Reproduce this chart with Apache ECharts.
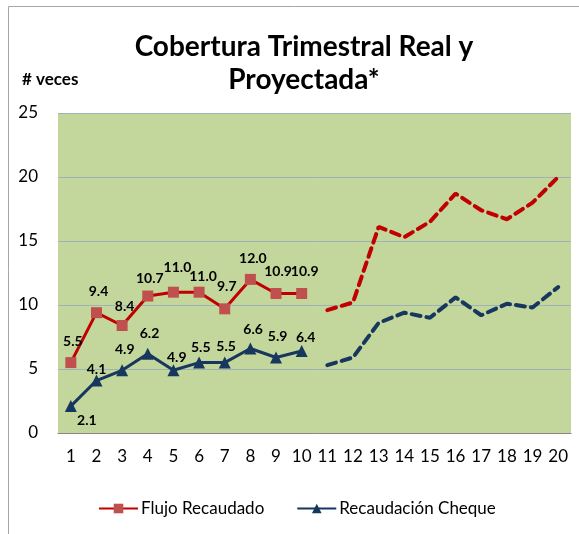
<!DOCTYPE html>
<html><head><meta charset="utf-8">
<script src="https://cdn.jsdelivr.net/npm/echarts@6/dist/echarts.min.js"></script>
<style>html,body{margin:0;padding:0;background:#fff}#c{width:579px;height:534px}</style>
</head><body><div id="c"></div>
<script>
const categories = ['1','2','3','4','5','6','7','8','9','10','11','12','13','14','15','16','17','18','19','20'];
const flujoReal = [5.5, 9.4, 8.4, 10.7, 11.0, 11.0, 9.7, 12.0, 10.9, 10.9];
const chequeReal = [2.1, 4.1, 4.9, 6.2, 4.9, 5.5, 5.5, 6.6, 5.9, 6.4];
const flujoProy = [9.6, 10.2, 16.1, 15.3, 16.5, 18.7, 17.4, 16.7, 18.0, 20.0];
const chequeProy = [5.3, 5.9, 8.6, 9.4, 9.0, 10.6, 9.2, 10.1, 9.8, 11.4];
const yTicks = [0, 5, 10, 15, 20, 25];

// label placement offsets (style only), relative to the marker centre
const redLabelDx = [2, 2, 2.5, 2, 4, 4, 2, 2.5, 2, 3];
const redLabelDy = [-21, -21, -19, -18, -25, -16, -22, -21, -22, -22];
const blueLabelDx = [16, 0, 2.6, 1.7, 3.3, 1.7, 1.4, 2.7, 1.6, 4];
const blueLabelDy = [14, -11, -21, -20, -13, -15, -16, -19.5, -21, -14];

const nReal = flujoReal.length;
const pad = (arr, before, total) => {
  const out = new Array(total).fill(null);
  arr.forEach((v, i) => { out[before + i] = v; });
  return out;
};
const N = categories.length;
const chart = echarts.init(document.getElementById('c'));
const font = 'Lato, "Open Sans", sans-serif';
const labelCommon = {show: true, position: 'top', fontFamily: font, fontWeight: 'bold', fontSize: 14, color: '#000', formatter: p => p.value == null ? '' : Number(p.value).toFixed(1)};
const layoutWith = (dxs, dys) => function (p) {
  const r = p.rect;
  const i = p.dataIndex;
  return {x: r.x + r.width / 2 + (dxs[i] || 0), y: r.y + r.height / 2 + (dys[i] || 0), align: 'center', verticalAlign: 'middle'};
};
chart.setOption({
  animation: false,
  textStyle: {fontFamily: font},
  graphic: [{type: 'rect', shape: {x: 8.5, y: 6.5, width: 700, height: 700}, style: {fill: 'none', stroke: '#a6a6a6', lineWidth: 1}, z: -1}],
  title: [{
    text: 'Cobertura Trimestral Real y\nProyectada*',
    left: 299, top: 25, textAlign: 'center',
    textStyle: {fontFamily: font, fontWeight: 'bold', fontSize: 28, color: '#000', lineHeight: 33}
  }, {
    text: '# veces', left: 17, top: 66,
    textStyle: {fontFamily: font, fontWeight: 'bold', fontSize: 17, color: '#000'}
  }],
  legend: {
    top: 495, left: 93, itemWidth: 39, itemHeight: 12, itemGap: 32,
    data: ['Flujo Recaudado', 'Recaudación Cheque'],
    textStyle: {fontFamily: font, fontSize: 17, color: '#000', padding: [0, 0, 0, -2]}
  },
  grid: {left: 58, right: 8, top: 113, bottom: 101, backgroundColor: '#c3d69b', show: true, borderWidth: 0},
  xAxis: {
    type: 'category', data: categories, boundaryGap: true,
    axisLine: {lineStyle: {color: '#868686', width: 1}},
    axisTick: {show: false},
    axisLabel: {fontFamily: font, fontSize: 17, color: '#000', margin: 15, interval: 0}
  },
  yAxis: {
    type: 'value', min: yTicks[0], max: yTicks[yTicks.length - 1], interval: 5,
    axisLine: {show: false}, axisTick: {show: false},
    axisLabel: {fontFamily: font, fontSize: 17, color: '#000', margin: 20},
    splitLine: {lineStyle: {color: '#9db3b8', width: 1}}
  },
  series: [
    {
      name: 'Flujo Recaudado', type: 'line', data: pad(flujoReal, 0, N),
      symbol: 'rect', symbolSize: 11, connectNulls: false,
      lineStyle: {color: '#c00000', width: 3},
      itemStyle: {color: '#c0504d', borderWidth: 0},
      label: labelCommon, labelLayout: layoutWith(redLabelDx, redLabelDy), z: 3
    },
    {
      name: 'Recaudación Cheque', type: 'line', data: pad(chequeReal, 0, N),
      symbol: 'triangle', symbolSize: 12,
      lineStyle: {color: '#17375e', width: 3},
      itemStyle: {color: '#17375e'},
      label: Object.assign({}, labelCommon),
      labelLayout: layoutWith(blueLabelDx, blueLabelDy),
      z: 3
    },
    {
      name: 'Flujo Proyectado', type: 'line', data: pad(flujoProy, nReal, N),
      symbol: 'none', lineStyle: {color: '#c00000', width: 4, type: [9, 6], cap: 'round'}, z: 2
    },
    {
      name: 'Cheque Proyectado', type: 'line', data: pad(chequeProy, nReal, N),
      symbol: 'none', lineStyle: {color: '#17375e', width: 4, type: [9, 6], cap: 'round'}, z: 2
    }
  ]
});
</script></body></html>
